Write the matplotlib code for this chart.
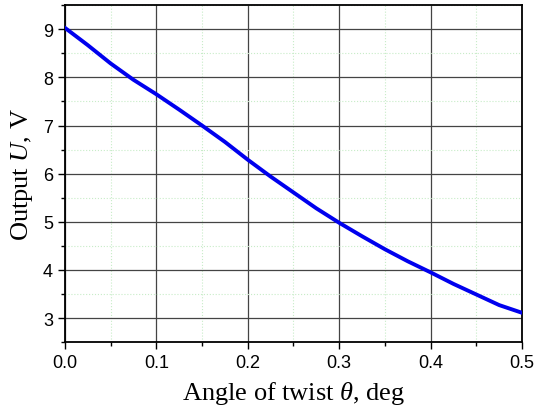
import matplotlib
matplotlib.use('Agg')
import matplotlib.pyplot as plt
from matplotlib.ticker import MultipleLocator

plt.rcParams['mathtext.fontset'] = 'custom'
plt.rcParams['mathtext.it'] = 'Liberation Serif:italic'
plt.rcParams['mathtext.rm'] = 'Liberation Serif'

# Data
angle = [0.0, 0.025, 0.05, 0.075, 0.1, 0.125, 0.15, 0.175, 0.2, 0.225, 0.25,
         0.275, 0.3, 0.325, 0.35, 0.375, 0.4, 0.425, 0.45, 0.475, 0.5]
output = [9.03, 8.67, 8.29, 7.95, 7.65, 7.33, 7.0, 6.66, 6.29, 5.94, 5.61,
          5.28, 4.98, 4.70, 4.43, 4.18, 3.95, 3.71, 3.49, 3.27, 3.11]

fig = plt.figure(figsize=(5.36, 4.10), dpi=100)
ax = fig.add_axes([0.121, 0.163, 0.853, 0.822])

ax.plot(angle, output, color='#0000ee', linewidth=2.8, zorder=3,
        solid_joinstyle='round')

ax.set_xlim(0, 0.5)
ax.set_ylim(2.5, 9.5)
ax.xaxis.set_major_locator(MultipleLocator(0.1))
ax.xaxis.set_minor_locator(MultipleLocator(0.05))
ax.yaxis.set_major_locator(MultipleLocator(1))
ax.yaxis.set_minor_locator(MultipleLocator(0.5))

ax.grid(which='major', color='#444444', linewidth=0.9)
ax.grid(which='minor', color='#c8ecc8', linewidth=0.8, linestyle=':')

ax.tick_params(which='both', direction='out', top=False, right=False,
               labelsize=13, width=1.0)
ax.tick_params(which='major', length=5)
ax.tick_params(which='minor', length=3)
for lbl in ax.get_xticklabels() + ax.get_yticklabels():
    lbl.set_family('Liberation Sans')

for s in ax.spines.values():
    s.set_linewidth(1.3)

ax.set_xlabel(r'Angle of twist $\theta$, deg', family='Liberation Serif',
              fontsize=19, labelpad=6)
ax.set_ylabel(r'Output $U$, V', family='Liberation Serif', fontsize=19,
              labelpad=6)

fig.savefig('out.png', dpi=100)
